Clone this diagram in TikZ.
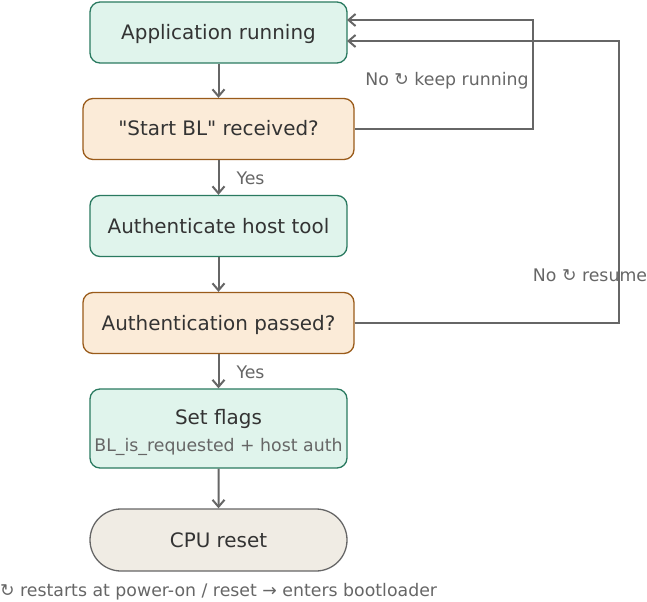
\documentclass[tikz,border=0pt]{standalone}
\usepackage{fontspec}
\setmainfont{DejaVu Sans}[Ligatures=TeXOff]
\usetikzlibrary{arrows.meta,shapes.misc}
\definecolor{procfill}{HTML}{E0F4EC}
\definecolor{procdraw}{HTML}{2A7A60}
\definecolor{decfill}{HTML}{FBEBD8}
\definecolor{decdraw}{HTML}{9A5B1A}
\definecolor{termfill}{HTML}{F0ECE4}
\definecolor{termdraw}{HTML}{666666}
\definecolor{linec}{HTML}{666666}
\definecolor{txt}{HTML}{333333}
\definecolor{subtxt}{HTML}{666666}
\tikzset{
  base/.style={draw, line width=1.3bp, align=center, text=txt, font=\fontsize{20}{24}\selectfont, inner sep=0pt, text height=15bp, text depth=1bp},
  box/.style={base, rounded corners=10bp, minimum height=61bp},
  proc/.style={box, fill=procfill, draw=procdraw, minimum width=257bp},
  dec/.style={box, fill=decfill, draw=decdraw, minimum width=271bp},
  term/.style={base, draw=termdraw, fill=termfill, rounded rectangle, minimum width=257bp, minimum height=62bp},
  conn/.style={draw=linec, line width=2bp, -{Straight Barb[length=7bp,width=12bp]}},
  lbl/.style={text=subtxt, font=\fontsize{17.4}{20}\selectfont, inner sep=0pt}
}
\begin{document}
\begin{tikzpicture}[x=1bp,y=-1bp]
\useasboundingbox (0,0) rectangle (647,602);
\node[proc] (app) at (218.5,32.5) {Application running};
\node[dec] (start) at (218.5,129) {"Start BL" received?};
\node[proc] (auth) at (218.5,226) {Authenticate host tool};
\node[dec] (pass) at (218.5,323) {Authentication passed?};
\node[proc, minimum height=79bp] (flags) at (218.5,428.5) {};
\node[text=txt, font=\fontsize{20}{24}\selectfont, inner sep=0pt] (flagt) at (218.5,419) {Set flags};
\node[lbl] (flags2) at (218.5,447) {BL\_is\_requested + host auth};
\node[term] (cpu) at (218.5,540) {CPU reset};
\node[lbl, anchor=west] (note) at (0,592) {↻ restarts at power-on / reset → enters bootloader};

\coordinate (in1) at (347,20);
\coordinate (in2) at (347,41);

\draw[conn] (app) -- (start);
\draw[conn] (start) -- node[lbl, anchor=west, xshift=17bp, yshift=-1bp] (y1) {Yes} (auth);
\draw[conn] (auth) -- (pass);
\draw[conn] (pass) -- node[lbl, anchor=west, xshift=17bp, yshift=-1bp] (y2) {Yes} (flags);
\draw[conn] (flags) -- (cpu);

\draw[conn] (start.east) -- (533,129) -- (533,20) -- (in1);
\draw[conn] (pass.east) -- (619,323) -- (619,41) -- (in2);
\node[lbl] (l1) at (447,81) {No ↻ keep running};
\node[lbl] (l2) at (590,275) {No ↻ resume};
\end{tikzpicture}
\end{document}
